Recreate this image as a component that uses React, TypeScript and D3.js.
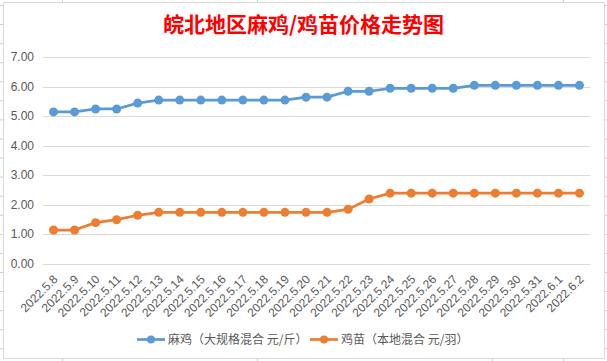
import React from 'react';
import * as d3 from 'd3';

const title = '皖北地区麻鸡/鸡苗价格走势图';
const dates = [
  '2022.5.8', '2022.5.9', '2022.5.10', '2022.5.11', '2022.5.12', '2022.5.13', '2022.5.14',
  '2022.5.15', '2022.5.16', '2022.5.17', '2022.5.18', '2022.5.19', '2022.5.20', '2022.5.21',
  '2022.5.22', '2022.5.23', '2022.5.24', '2022.5.25', '2022.5.26', '2022.5.27', '2022.5.28',
  '2022.5.29', '2022.5.30', '2022.5.31', '2022.6.1', '2022.6.2',
];
const maji = [
  5.15, 5.15, 5.25, 5.25, 5.45, 5.55, 5.55, 5.55, 5.55, 5.55, 5.55, 5.55, 5.65,
  5.65, 5.85, 5.85, 5.95, 5.95, 5.95, 5.95, 6.05, 6.05, 6.05, 6.05, 6.05, 6.05,
];
const jimiao = [
  1.15, 1.15, 1.4, 1.5, 1.65, 1.75, 1.75, 1.75, 1.75, 1.75, 1.75, 1.75, 1.75,
  1.75, 1.85, 2.2, 2.4, 2.4, 2.4, 2.4, 2.4, 2.4, 2.4, 2.4, 2.4, 2.4,
];
const yTicks = [0, 1, 2, 3, 4, 5, 6, 7];
const seriesNames = ['麻鸡（大规格混合 元/斤）', '鸡苗（本地混合 元/羽）'];

const W = 607;
const H = 361;
const BLUE = '#5B9BD5';
const ORANGE = '#ED7D31';
const latin = '"Liberation Sans", Arial, sans-serif';
const cjk = '"Noto Sans CJK SC", sans-serif';

export default function App() {
  const x = d3.scalePoint<string>().domain(dates).range([43, 590]).padding(0.5);
  const y = d3.scaleLinear().domain([0, 7]).range([264, 57.3]);

  const line = d3.line<number>()
    .x((d, i) => x(dates[i]) as number)
    .y(d => y(d));

  const series = [
    { name: seriesNames[0], values: maji, color: BLUE },
    { name: seriesNames[1], values: jimiao, color: ORANGE },
  ];

  // spreadsheet cell marks around the chart box
  const rowMarks = d3.range(0, 19).map(k => 5 + k * 19.07);
  const colTop = [62, 257, 563];
  const colBottom = [62, 257, 492, 563];

  const legendItems = [
    { lx: 137, tx: 168 },
    { lx: 310, tx: 341 },
  ];

  return (
    <div style={{ position: 'absolute', left: 0, top: 0 }}>
      <svg width={W} height={H} style={{ display: 'block', background: '#fff' }}>
        {rowMarks.map((ry, i) => (
          <g key={'r' + i} stroke="#CDCDDB" strokeWidth={1}>
            <line x1={0} x2={3} y1={ry + 0.5} y2={ry + 0.5} />
            <line x1={604} x2={607} y1={ry + 0.5} y2={ry + 0.5} />
          </g>
        ))}
        {colTop.map((cx, i) => (
          <line key={'t' + i} x1={cx + 0.5} x2={cx + 0.5} y1={0} y2={2} stroke="#CDCDDB" />
        ))}
        {colBottom.map((cx, i) => (
          <line key={'b' + i} x1={cx + 0.5} x2={cx + 0.5} y1={358} y2={361} stroke="#CDCDDB" />
        ))}
        <rect x={3.5} y={2.5} width={601} height={356} fill="#fff" stroke="#D9D9D9" />

        <text x={303.5} y={32} textAnchor="middle" fill="#FF0000" fontSize={21}
          fontWeight="bold" fontFamily={cjk}>{title}</text>

        {yTicks.map(t => (
          <g key={t}>
            <line x1={43} x2={590} y1={Math.round(y(t)) + 0.5} y2={Math.round(y(t)) + 0.5}
              stroke="#D9D9D9" strokeWidth={1} />
            <text x={34} y={y(t) + 4} textAnchor="end" fill="#595959" fontSize={12}
              fontFamily={latin}>{t.toFixed(2)}</text>
          </g>
        ))}

        {dates.map(d => {
          const px = (x(d) as number) + 5;
          const py = 280;
          return (
            <text key={d} x={px} y={py} textAnchor="end" fill="#595959" fontSize={12}
              fontFamily={latin} transform={`rotate(-45 ${px} ${py})`}>{d}</text>
          );
        })}

        {series.map(s => (
          <g key={s.name}>
            <path d={line(s.values) || ''} fill="none" stroke={s.color} strokeWidth={2.75}
              strokeLinejoin="round" />
            {s.values.map((v, i) => (
              <circle key={i} cx={x(dates[i])} cy={y(v)} r={4.5} fill={s.color} />
            ))}
          </g>
        ))}

        {series.map((s, i) => (
          <g key={'l' + i}>
            <line x1={legendItems[i].lx} x2={legendItems[i].lx + 28} y1={339.5} y2={339.5}
              stroke={s.color} strokeWidth={2.75} />
            <circle cx={legendItems[i].lx + 14} cy={339.5} r={4} fill={s.color} />
            <text x={legendItems[i].tx} y={344} fill="#595959" fontSize={12}
              fontFamily={cjk}>{s.name}</text>
          </g>
        ))}
      </svg>
    </div>
  );
}
